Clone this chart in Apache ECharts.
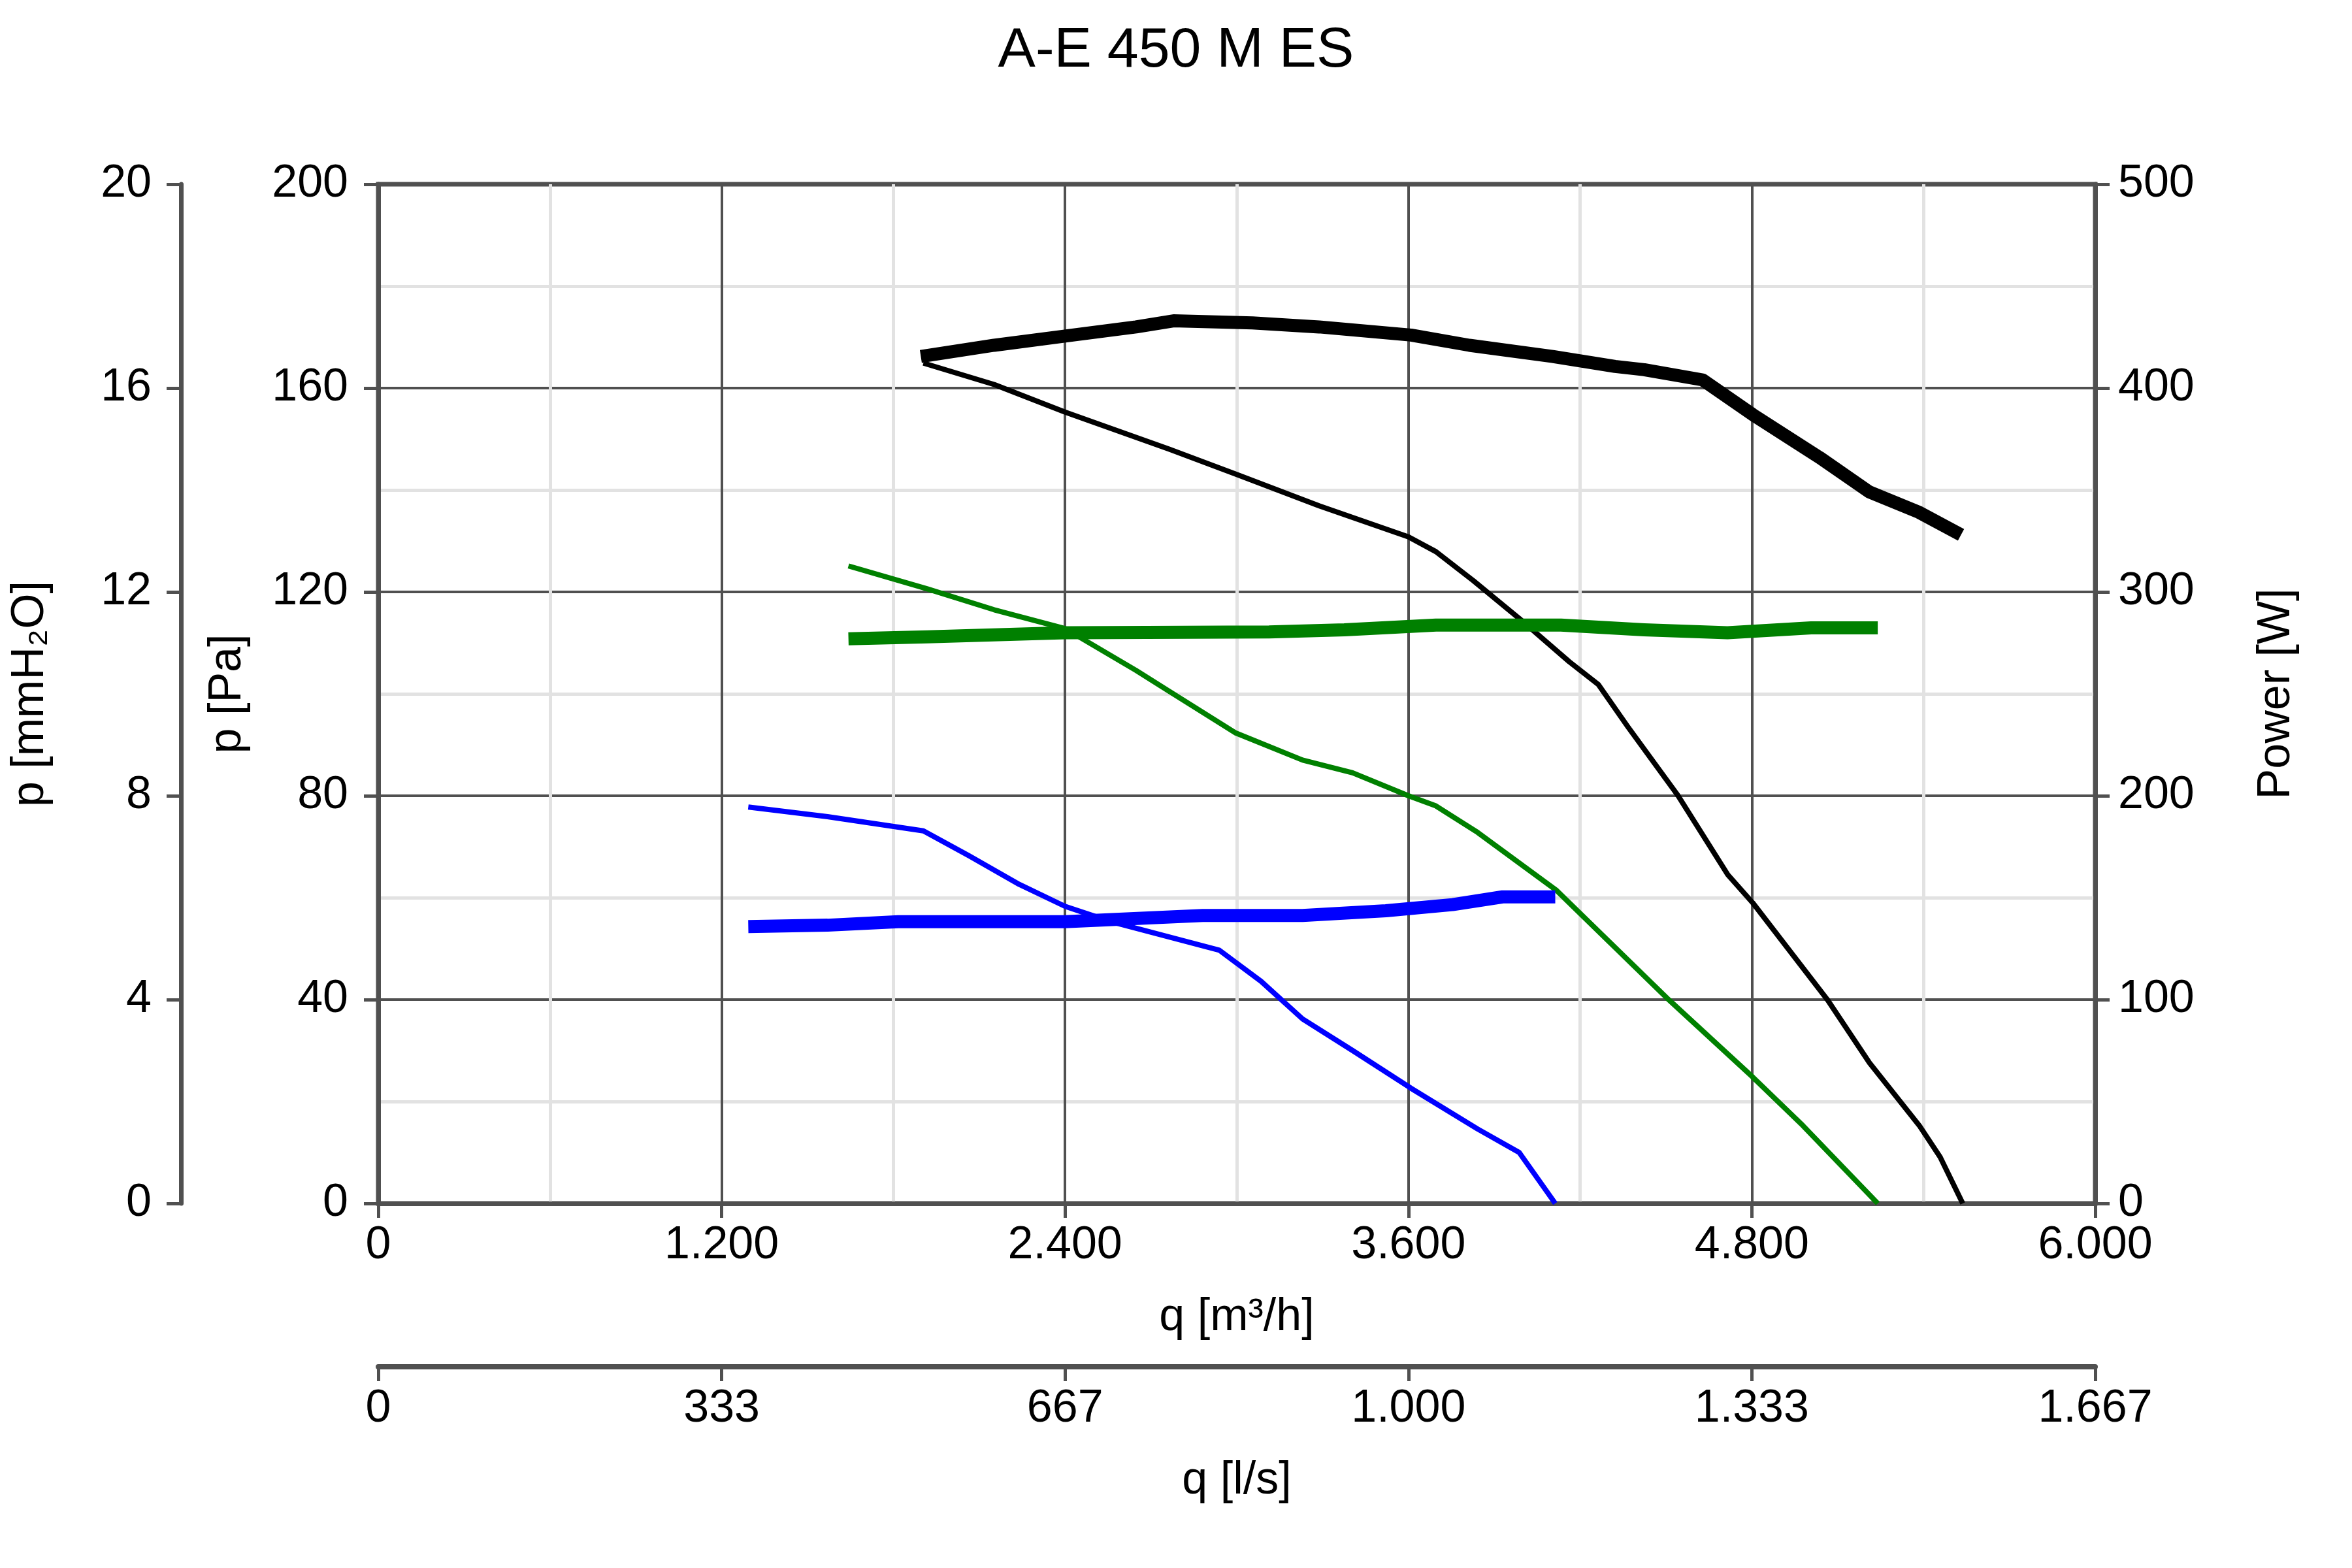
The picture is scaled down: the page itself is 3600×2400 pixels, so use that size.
<!DOCTYPE html>
<html>
<head>
<meta charset="utf-8">
<title>A-E 450 M ES</title>
<script src="https://cdn.jsdelivr.net/npm/echarts/dist/echarts.min.js"></script>
<style>
  html, body { margin: 0; padding: 0; background: #fff; }
  #chart { width: 3600px; height: 2400px; }
</style>
</head>
<body>
<div id="chart"></div>
<script>
// tick labels
const qTickLabels = ['0', '1.200', '2.400', '3.600', '4.800', '6.000']
const lsTickLabels = ['0', '333', '667', '1.000', '1.333', '1.667']

// black curve (highest speed)
const blackPressureQ = [1905, 2152, 2400, 2764, 2997, 3288, 3600, 3696, 3827, 3987, 4162, 4264, 4366, 4541, 4716, 4803, 5065, 5211, 5385, 5458, 5537]
const blackPressurePa = [164.9, 160.7, 155.3, 148, 143.1, 136.9, 130.8, 127.9, 122.2, 114.8, 106.3, 101.8, 93.6, 80.1, 64.5, 59, 39.9, 27.6, 15.3, 9.1, 0]
const blackPowerQ = [1896, 2152, 2400, 2648, 2779, 3055, 3288, 3609, 3813, 4104, 4322, 4424, 4628, 4803, 5036, 5211, 5385, 5531]
const blackPowerW = [415.5, 421, 425.5, 430, 433, 432, 430, 426, 421, 415.5, 410.6, 409, 404, 387, 366, 349, 339, 328]

// green curve
const greenPressureQ = [1643, 1919, 2152, 2400, 2648, 2764, 2997, 3230, 3405, 3600, 3696, 3842, 4118, 4511, 4803, 4978, 5240]
const greenPressurePa = [125.1, 120.6, 116.5, 112.8, 104.6, 100.5, 92.3, 87, 84.5, 80, 78, 72.8, 61.4, 39.9, 24.8, 15.3, 0]
const greenPowerQ = [1643, 1919, 2400, 3113, 3376, 3696, 4133, 4424, 4715, 5007, 5240]
const greenPowerW = [277, 278, 280, 280.4, 281.4, 283.7, 283.7, 281.4, 280, 282.4, 282.4]

// blue curve (lowest speed)
const bluePressureQ = [1293, 1570, 1905, 2065, 2240, 2400, 2560, 2939, 3085, 3230, 3405, 3609, 3842, 3987, 4113]
const bluePressurePa = [77.8, 75.9, 73.1, 68.2, 62.6, 58.3, 55.3, 49.7, 43.6, 36.2, 30, 22.6, 14.6, 10, 0]
const bluePowerQ = [1293, 1570, 1817, 2400, 2881, 3230, 3521, 3754, 3929, 4113]
const bluePowerW = [135.8, 136.5, 138.2, 138.2, 141.3, 141.3, 143.6, 146.6, 150.4, 150.4]

const FONT = 'Liberation Sans, Arial, sans-serif'
const AXIS_COLOR = '#505050'
const MINOR_COLOR = '#e2e2e2'

function pairs(xs, ys) {
  return xs.map((x, i) => [x, ys[i]])
}

function line(name, xs, ys, color, width, yAxisIndex) {
  return {
    name: name,
    type: 'line',
    xAxisIndex: 0,
    yAxisIndex: yAxisIndex,
    data: pairs(xs, ys),
    showSymbol: false,
    symbol: 'none',
    smooth: false,
    lineStyle: { color: color, width: width, join: 'round' },
    itemStyle: { color: color },
    z: 5
  }
}

const labelStyle = { fontSize: 70, color: '#000', fontFamily: FONT }
const nameStyle = { fontSize: 70, color: '#000', fontFamily: FONT }
const axisLine = { show: true, onZero: false, lineStyle: { color: AXIS_COLOR, width: 7 } }
const axisTick = { show: true, length: 22, lineStyle: { color: AXIS_COLOR, width: 5 } }

const chart = echarts.init(document.getElementById('chart'), null, { renderer: 'canvas' })

chart.setOption({
  animation: false,
  backgroundColor: '#fff',
  title: {
    text: 'A-E 450 M ES',
    left: 'center',
    top: 30,
    textStyle: { fontSize: 86, fontWeight: 'normal', color: '#000', fontFamily: FONT }
  },
  grid: {
    left: 579,
    right: 393,
    top: 282,
    bottom: 558,
    containLabel: false,
    outerBoundsMode: 'none',
    show: true,
    borderColor: AXIS_COLOR,
    borderWidth: 7
  },
  xAxis: [
    {
      type: 'value',
      position: 'bottom',
      min: 0,
      max: 6000,
      interval: 1200,
      name: 'q [m³/h]',
      nameLocation: 'middle',
      nameGap: 140,
      nameTextStyle: nameStyle,
      axisLine: axisLine,
      axisTick: axisTick,
      axisLabel: Object.assign({ margin: 30, formatter: v => qTickLabels[Math.round(v / 1200)] }, labelStyle),
      splitLine: { show: true, lineStyle: { color: AXIS_COLOR, width: 4 } },
      minorTick: { show: false, splitNumber: 2 },
      minorSplitLine: { show: true, lineStyle: { color: MINOR_COLOR, width: 5 } }
    },
    {
      type: 'value',
      position: 'bottom',
      offset: 250,
      min: 0,
      max: 6000,
      interval: 1200,
      name: 'q [l/s]',
      nameLocation: 'middle',
      nameGap: 140,
      nameTextStyle: nameStyle,
      axisLine: { show: true, onZero: false, lineStyle: { color: AXIS_COLOR, width: 8 } },
      axisTick: axisTick,
      axisLabel: Object.assign({ margin: 30, formatter: v => lsTickLabels[Math.round(v / 1200)] }, labelStyle),
      splitLine: { show: false }
    }
  ],
  yAxis: [
    {
      type: 'value',
      position: 'left',
      min: 0,
      max: 200,
      interval: 40,
      name: 'p [Pa]',
      nameLocation: 'middle',
      nameRotate: 90,
      nameGap: 195,
      nameTextStyle: nameStyle,
      axisLine: axisLine,
      axisTick: axisTick,
      axisLabel: Object.assign({ margin: 46 }, labelStyle),
      splitLine: { show: true, lineStyle: { color: AXIS_COLOR, width: 4 } },
      minorTick: { show: false, splitNumber: 2 },
      minorSplitLine: { show: true, lineStyle: { color: MINOR_COLOR, width: 5 } }
    },
    {
      type: 'value',
      position: 'left',
      offset: 302,
      min: 0,
      max: 20,
      interval: 4,
      name: 'p [mmH₂O]',
      nameLocation: 'middle',
      nameRotate: 90,
      nameGap: 195,
      nameTextStyle: nameStyle,
      axisLine: axisLine,
      axisTick: axisTick,
      axisLabel: Object.assign({ margin: 45 }, labelStyle),
      splitLine: { show: false }
    },
    {
      type: 'value',
      position: 'right',
      min: 0,
      max: 500,
      interval: 100,
      name: 'Power [W]',
      nameLocation: 'middle',
      nameRotate: 90,
      nameGap: 243,
      nameTextStyle: nameStyle,
      axisLine: axisLine,
      axisTick: axisTick,
      axisLabel: Object.assign({ margin: 35 }, labelStyle),
      splitLine: { show: false }
    }
  ],
  series: [
    line('Pressure black', blackPressureQ, blackPressurePa, '#000000', 8, 0),
    line('Power black', blackPowerQ, blackPowerW, '#000000', 20, 2),
    line('Pressure green', greenPressureQ, greenPressurePa, '#008000', 8, 0),
    line('Power green', greenPowerQ, greenPowerW, '#008000', 20, 2),
    line('Pressure blue', bluePressureQ, bluePressurePa, '#0000ff', 8, 0),
    line('Power blue', bluePowerQ, bluePowerW, '#0000ff', 20, 2)
  ]
})
</script>
</body>
</html>
